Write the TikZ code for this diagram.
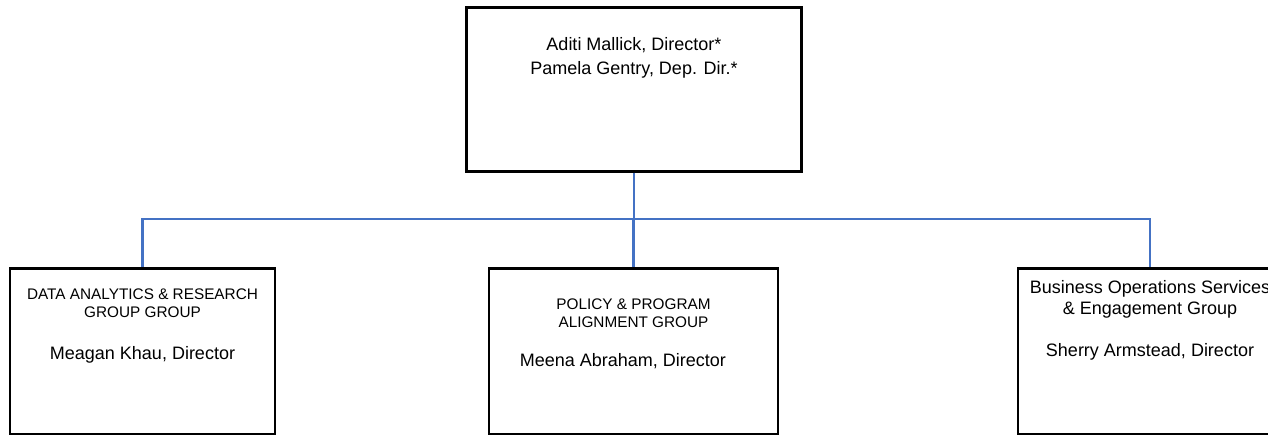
\documentclass[tikz,border=0pt]{standalone}
\usepackage{fontspec}
\setmainfont{Liberation Sans}
\usetikzlibrary{positioning}
\definecolor{linkblue}{RGB}{68,114,196}

% text block at the top of a box
\newcommand{\boxtext}[3]{\parbox[c][#1][t]{#2}{\centering #3}}

\begin{document}
\begin{tikzpicture}[x=0.75pt, y=-0.75pt,
    orgbox/.style={draw, line width=1.9pt, inner sep=0pt, anchor=north},
    link/.style={draw=linkblue, line width=2pt}]
  \useasboundingbox (0,0) rectangle (1268,435);
  \clip (0,0) rectangle (1268,435);

  \node[orgbox] (dir) at (634,6) {\boxtext{123pt}{251.25pt}{%
      \fontsize{13.5}{17.3}\selectfont\vspace*{23pt}%
      Aditi Mallick, Director*\\ Pamela Gentry, Dep. Dir.*}};

  \node[orgbox] (dar) at (142.5,267) {\boxtext{124.5pt}{198.75pt}{%
      \fontsize{11.5}{13.7}\selectfont\vspace*{15.5pt}%
      DATA ANALYTICS \& RESEARCH\\ GROUP GROUP\par
      \vspace{15.5pt}\fontsize{13.5}{16}\selectfont Meagan Khau, Director}};
  \node[orgbox] (pol) at (633.5,267) {\boxtext{124.5pt}{216.75pt}{%
      \fontsize{11.5}{13.5}\selectfont\vspace*{23pt}%
      POLICY \& PROGRAM\\ ALIGNMENT GROUP\par
      \vspace{13pt}\fontsize{13.5}{16}\selectfont Meena Abraham, Director\hspace*{16pt}}};
  \node[orgbox] (ops) at (1150,267) {\boxtext{124.5pt}{198pt}{%
      \fontsize{13.5}{15.75}\selectfont\vspace*{9.5pt}%
      Business Operations Services\\ \& Engagement Group\par
      \vspace{15.5pt}\fontsize{13.5}{16}\selectfont Sherry Armstead, Director}};

  \coordinate (bus) at (0,219);
  \draw[link] (dir.south) -- (dir.south |- bus);
  \draw[link] (dar.north) |- (ops.north |- bus) -- (ops.north);
  \draw[link] (pol.north) -- (pol.north |- bus);
\end{tikzpicture}
\end{document}
